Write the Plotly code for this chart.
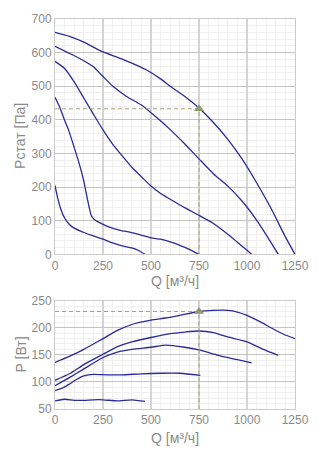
import plotly.graph_objects as go
from plotly.subplots import make_subplots

# Static pressure curves, Pstat [Pa] vs Q [m3/h], one per speed step
q_p1 = [0, 75, 150, 250, 325, 400, 475, 550, 600, 675, 750, 825, 900, 975, 1050, 1125, 1200, 1250]
p1 = [660, 648, 631, 602, 586, 569, 549, 522, 500, 470, 435, 392, 342, 283, 213, 137, 52, 0]

q_p2 = [0, 75, 150, 200, 250, 300, 375, 450, 525, 600, 675, 750, 825, 900, 975, 1050, 1100, 1163]
p2 = [619, 598, 576, 558, 529, 501, 469, 444, 409, 371, 329, 284, 240, 203, 158, 102, 58, 0]

q_p3 = [0, 50, 100, 150, 200, 250, 300, 350, 400, 450, 500, 550, 600, 675, 750, 825, 900, 950, 1000, 1024]
p3 = [574, 553, 513, 465, 417, 370, 328, 293, 259, 231, 203, 181, 164, 139, 116, 92, 60, 36, 12, 0]

q_p4 = [0, 25, 50, 70, 100, 125, 150, 165, 180, 190, 205, 220, 270, 340, 390, 445, 500, 550, 600, 650, 700, 750]
p4 = [467, 437, 399, 371, 318, 272, 218, 175, 135, 114, 104, 98, 84, 71, 66, 58, 49, 45, 37, 27, 15, 0]

q_p5 = [0, 15, 30, 50, 75, 100, 150, 200, 250, 300, 350, 400, 440, 469]
p5 = [205, 165, 135, 108, 89, 78, 65, 55, 45, 34, 25, 19, 10, 0]

# Power consumption curves, P [W] vs Q [m3/h]
q_w1 = [0, 75, 150, 250, 325, 400, 500, 575, 650, 750, 825, 900, 950, 1000, 1075, 1125, 1190, 1250]
w1 = [136, 147, 160, 180, 195, 206, 214, 218, 223, 230, 232, 232, 229, 223, 210, 200, 188, 180]

q_w2 = [0, 75, 150, 250, 325, 400, 500, 600, 675, 750, 825, 900, 1000, 1085, 1163]
w2 = [103, 115, 132, 151, 165, 174, 182, 189, 192, 194, 191, 183, 174, 160, 149]

q_w3 = [0, 75, 150, 250, 325, 400, 500, 580, 675, 750, 850, 950, 1024]
w3 = [93, 108, 124, 145, 155, 160, 164, 168, 164, 159, 149, 141, 135]

q_w4 = [0, 40, 75, 110, 150, 200, 275, 350, 450, 550, 650, 757]
w4 = [84, 89, 96, 104, 111, 114, 113, 113, 115, 116, 116, 112]

q_w5 = [0, 50, 100, 150, 200, 250, 325, 400, 469]
w5 = [65, 68, 66, 66, 67, 67, 65, 67, 64]

# Operating point
op_q = 750
op_p = 433
op_w = 230

x_ticks = [0, 250, 500, 750, 1000, 1250]
p_ticks = [0, 100, 200, 300, 400, 500, 600, 700]
w_ticks = [50, 100, 150, 200, 250]

curve_color = "#2b2b98"
point_color = "#8e9b6e"
dash_color = "#a3a37e"
label_color = "#8a8a8a"
font_family = "Liberation Sans, Arial, sans-serif"

fig = make_subplots(rows=2, cols=1)

for qs, vs in [(q_p1, p1), (q_p2, p2), (q_p3, p3), (q_p4, p4), (q_p5, p5)]:
    fig.add_trace(go.Scatter(x=qs, y=vs, mode="lines",
                             line=dict(color=curve_color, width=1.3, shape="spline", smoothing=0.6),
                             showlegend=False), row=1, col=1)

for qs, vs in [(q_w1, w1), (q_w2, w2), (q_w3, w3), (q_w4, w4), (q_w5, w5)]:
    fig.add_trace(go.Scatter(x=qs, y=vs, mode="lines",
                             line=dict(color=curve_color, width=1.3, shape="spline", smoothing=0.6),
                             showlegend=False), row=2, col=1)

# Guide lines to the operating point
dash = dict(color=dash_color, width=1, dash="4px,3px")
fig.add_trace(go.Scatter(x=[x_ticks[0], op_q, op_q], y=[op_p, op_p, p_ticks[0]], mode="lines",
                         line=dash, showlegend=False), row=1, col=1)
fig.add_trace(go.Scatter(x=[x_ticks[0], op_q, op_q], y=[op_w, op_w, w_ticks[0]], mode="lines",
                         line=dash, showlegend=False), row=2, col=1)
fig.add_trace(go.Scatter(x=[op_q], y=[op_p], mode="markers",
                         marker=dict(symbol="triangle-up", size=9, color=point_color),
                         showlegend=False), row=1, col=1)
fig.add_trace(go.Scatter(x=[op_q], y=[op_w], mode="markers",
                         marker=dict(symbol="triangle-up", size=9, color=point_color),
                         showlegend=False), row=2, col=1)

tick_font = dict(family=font_family, size=12, color=label_color)
title_font = dict(family=font_family, size=14, color=label_color)

x_common = dict(range=[0, 1250], tickvals=x_ticks, showgrid=True, gridcolor="#d4d4d4", gridwidth=2,
                minor=dict(dtick=50, showgrid=True, gridcolor="#f0f0f0", gridwidth=1),
                showline=True, linecolor="#cccccc", linewidth=1, mirror=True,
                zeroline=False, ticks="", tickfont=tick_font)

fig.update_xaxes(**x_common, row=1, col=1)
fig.update_xaxes(**x_common, row=2, col=1)

fig.update_yaxes(range=[0, 700], tickvals=p_ticks, showgrid=True, gridcolor="#c4c4c4", gridwidth=1,
                 minor=dict(dtick=20, showgrid=True, gridcolor="#f0f0f0", gridwidth=1),
                 showline=True, linecolor="#cccccc", linewidth=1, mirror=True,
                 zeroline=False, ticks="", tickfont=tick_font,
                 domain=[0.3965, 1.0], row=1, col=1)
fig.update_yaxes(range=[50, 250], tickvals=w_ticks, showgrid=True, gridcolor="#c4c4c4", gridwidth=1,
                 minor=dict(dtick=10, showgrid=True, gridcolor="#f0f0f0", gridwidth=1),
                 showline=True, linecolor="#cccccc", linewidth=1, mirror=True,
                 zeroline=False, ticks="", tickfont=tick_font,
                 domain=[0.0, 0.2778], row=2, col=1)

# Axis titles placed as paper annotations
titles = [
    dict(text="Q [м³/ч]", x=0.5, y=0.327, textangle=0),
    dict(text="Q [м³/ч]", x=0.5, y=-0.075, textangle=0),
    dict(text="Pстат [Па]", x=-0.143, y=0.6995, textangle=-90),
    dict(text="P [Вт]", x=-0.143, y=0.139, textangle=-90),
]
for t in titles:
    fig.add_annotation(text=t["text"], x=t["x"], y=t["y"], xref="paper", yref="paper",
                       xanchor="center", yanchor="middle", textangle=t["textangle"],
                       showarrow=False, font=title_font)

fig.update_layout(width=326, height=452, margin=dict(l=55, r=31, t=13, b=43),
                  paper_bgcolor="white", plot_bgcolor="white",
                  font=dict(family=font_family, color=label_color))

fig.write_html("out.html")
